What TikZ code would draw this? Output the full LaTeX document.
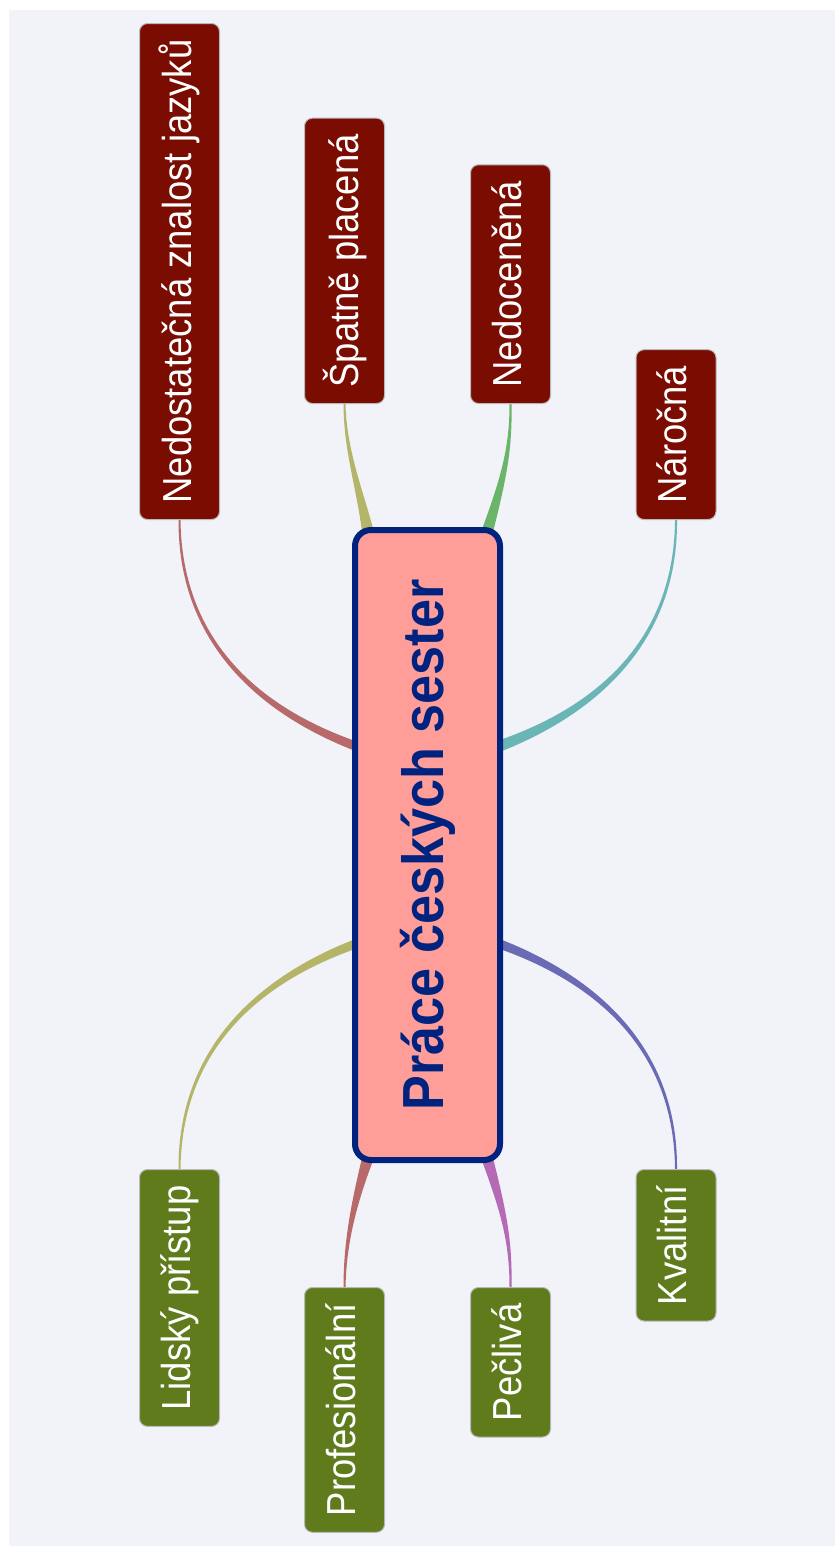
\documentclass[tikz,border=0pt]{standalone}
\usepackage{fontspec}
\setmainfont{Liberation Sans}[FakeStretch=0.9]
\usetikzlibrary{calc}

\definecolor{panel}{HTML}{F2F3F8}
\definecolor{badred}{HTML}{7A0C02}
\definecolor{goodgreen}{HTML}{607B1C}
\definecolor{corepink}{HTML}{FF9D99}
\definecolor{corenavy}{HTML}{00237F}
\definecolor{linkrose}{HTML}{B86A6A}
\definecolor{linkolive}{HTML}{B5B56A}
\definecolor{linkgreen}{HTML}{6AB56A}
\definecolor{linkteal}{HTML}{6AB5B5}
\definecolor{linkviolet}{HTML}{B56AB5}
\definecolor{linkblue}{HTML}{6A6AB5}

\pgfdeclarelayer{panel}
\pgfdeclarelayer{links}
\pgfsetlayers{panel,links,main}

% text turned to read from bottom to top
\newcommand{\vlabel}[1]{\rotatebox{90}{\rule[-4pt]{0pt}{16.5pt}#1}}
% tapered branch: colour, start, c1, c2, end, start/c1/c2 half widths
\newcommand{\branch}[8]{%
  \fill[#1] ($#2+#6$) .. controls ($#3+#7$) and ($#4+#8$) .. ($#5+(1,0)$)
    -- ($#5-(1,0)$) .. controls ($#4-#8$) and ($#3-#7$) .. ($#2-#6$) -- cycle;}

\begin{document}
\begin{tikzpicture}[x=0.5pt, y=-0.5pt,
  leaf/.style={rounded corners=4pt, draw=gray!55, line width=0.5pt,
    minimum width=40pt, inner xsep=0pt, inner ysep=8pt, text=white,
    font=\fontsize{20.25}{24}\selectfont},
  minus/.style={leaf, fill=badred},
  plus/.style={leaf, fill=goodgreen},
  core/.style={rounded corners=8pt, draw=corenavy, line width=3pt, fill=corepink,
    minimum width=72.5pt, minimum height=315pt, inner sep=0pt, text=corenavy,
    font=\bfseries\fontsize{29}{34}\selectfont}]
  \useasboundingbox (0,0) rectangle (835,1546);
  \begin{pgfonlayer}{panel}
    \fill[white] (0,0) rectangle (835,1546);
    \fill[panel] (9,10) rectangle (835,1546);
  \end{pgfonlayer}

  \node[core] (c) at (427.5,845) {\rotatebox{90}{\rule[-5pt]{0pt}{20.5pt}Práce českých sester}};

  % upper side
  \node[minus, anchor=south] (n1) at (179.5,520) {\vlabel{Nedostatečná znalost jazyků}};
  \node[minus, anchor=south] (n2) at (344.5,404) {\vlabel{Špatně placená}};
  \node[minus, anchor=south] (n3) at (510.5,404) {\vlabel{Nedoceněná}};
  \node[minus, anchor=south] (n4) at (676,520) {\vlabel{Náročná}};
  % lower side
  \node[plus, anchor=north] (n5) at (179.5,1169) {\vlabel{Lidský přístup}};
  \node[plus, anchor=north] (n6) at (344.5,1287) {\vlabel{Profesionální}};
  \node[plus, anchor=north] (n7) at (510.5,1287) {\vlabel{Pečlivá}};
  \node[plus, anchor=north] (n8) at (676,1169) {\vlabel{Kvalitní}};

  \coordinate (s1) at ($(c.west)+(6,-98)$);
  \coordinate (s2) at ($(c.north)+(-59.5,5)$);
  \coordinate (s3) at ($(c.north)+(59.5,5)$);
  \coordinate (s4) at ($(c.east)+(-6,-98)$);
  \coordinate (s5) at ($(c.west)+(6,98)$);
  \coordinate (s6) at ($(c.south)+(-59.5,-5)$);
  \coordinate (s7) at ($(c.south)+(59.5,-5)$);
  \coordinate (s8) at ($(c.east)+(-6,98)$);

  \begin{pgfonlayer}{links}
    \branch{linkrose}{(s1)}{(270,715)}{(180,650)}{(n1.south)}{(0,-5)}{(1.5,-3)}{(2,0)}
    \branch{linkolive}{(s2)}{(360,490)}{(345,450)}{(n2.south)}{(6,0)}{(3,0)}{(1.5,0)}
    \branch{linkgreen}{(s3)}{(503,480)}{(511,450)}{(n3.south)}{(6,0)}{(3,0)}{(1.5,0)}
    \branch{linkteal}{(s4)}{(585,715)}{(676,650)}{(n4.south)}{(0,6)}{(1.5,3.5)}{(2,0)}
    \branch{linkolive}{(s5)}{(270,975)}{(180,1040)}{(n5.north)}{(0,5)}{(1.5,3)}{(2,0)}
    \branch{linkrose}{(s6)}{(355,1200)}{(345,1240)}{(n6.north)}{(6,0)}{(3,0)}{(1.5,0)}
    \branch{linkviolet}{(s7)}{(503,1210)}{(511,1240)}{(n7.north)}{(6,0)}{(3,0)}{(1.5,0)}
    \branch{linkblue}{(s8)}{(585,975)}{(676,1040)}{(n8.north)}{(0,-5)}{(1.5,-3)}{(2,0)}
  \end{pgfonlayer}
\end{tikzpicture}
\end{document}
